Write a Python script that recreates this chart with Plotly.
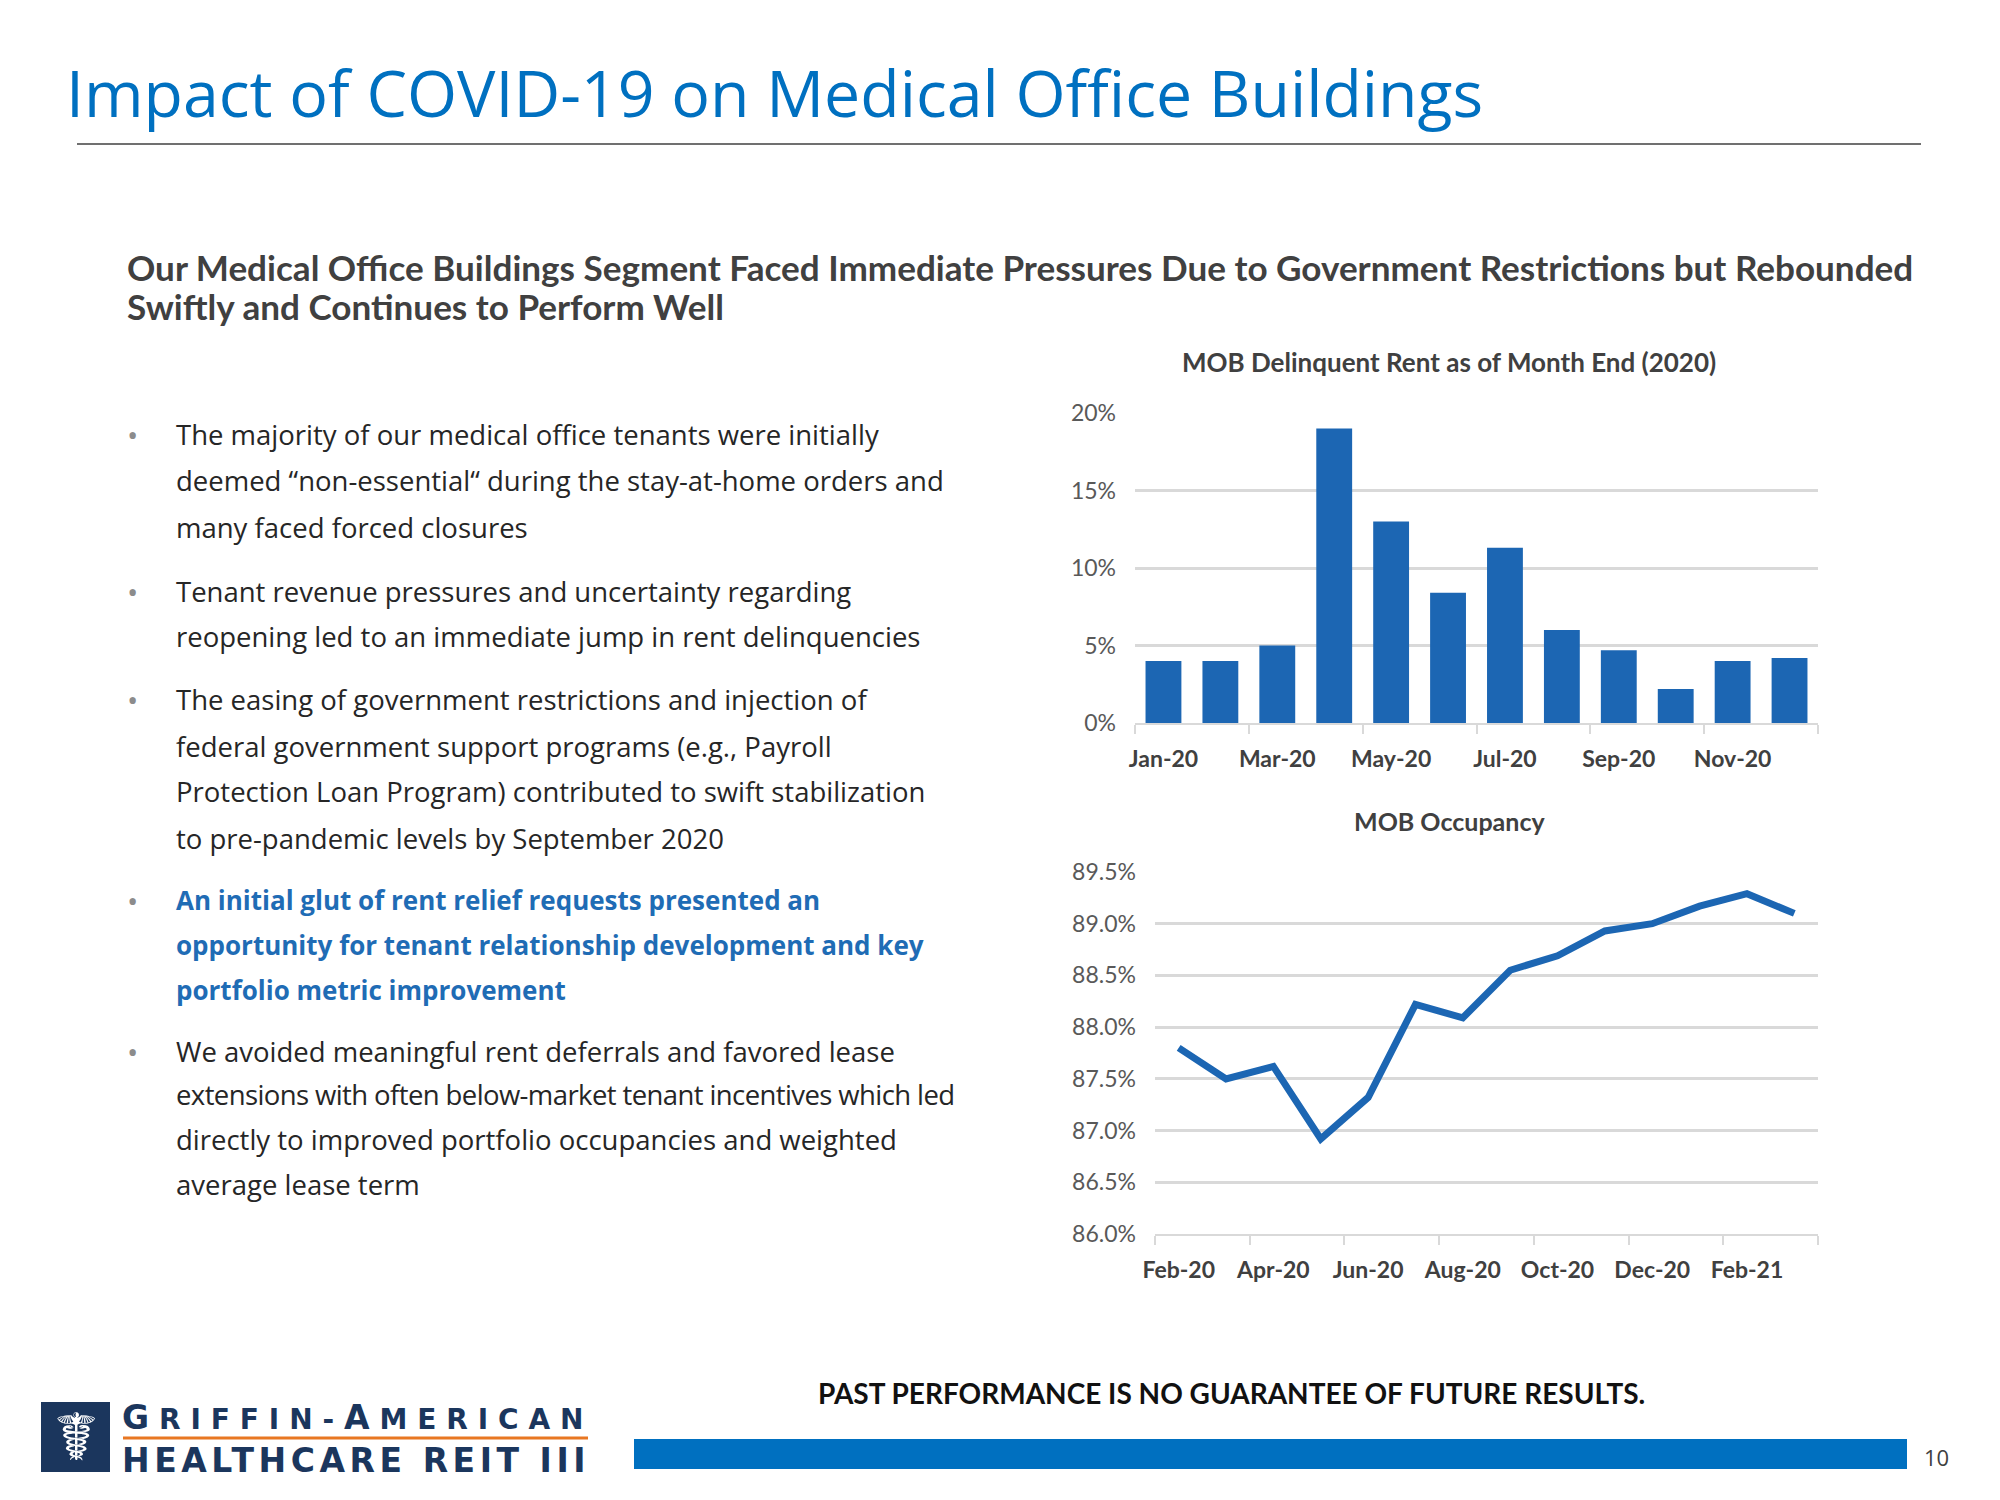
import plotly.graph_objects as go

# ---------------- data ----------------
rent_months = ["Jan-20", "Feb-20", "Mar-20", "Apr-20", "May-20", "Jun-20",
               "Jul-20", "Aug-20", "Sep-20", "Oct-20", "Nov-20", "Dec-20"]
rent_delinquent_pct = [4.0, 4.0, 5.0, 19.0, 13.0, 8.4, 11.3, 6.0, 4.7, 2.2, 4.0, 4.2]
rent_ticks = [0, 5, 10, 15, 20]
rent_tick_labels = ["0%", "5%", "10%", "15%", "20%"]

occ_months = ["Feb-20", "Mar-20", "Apr-20", "May-20", "Jun-20", "Jul-20", "Aug-20",
              "Sep-20", "Oct-20", "Nov-20", "Dec-20", "Jan-21", "Feb-21", "Mar-21"]
occ_pct = [87.8, 87.5, 87.62, 86.92, 87.32, 88.22, 88.09, 88.55, 88.69, 88.93,
           89.0, 89.17, 89.29, 89.1]
occ_ticks = [86.0, 86.5, 87.0, 87.5, 88.0, 88.5, 89.0, 89.5]
occ_tick_labels = ["86.0%", "86.5%", "87.0%", "87.5%", "88.0%", "88.5%", "89.0%", "89.5%"]

title_text = "Impact of COVID-19 on Medical Office Buildings"
subtitle_lines = [
    "Our Medical Office Buildings Segment Faced Immediate Pressures Due to Government Restrictions but Rebounded",
    "Swiftly and Continues to Perform Well",
]
bullets = [
    (["The majority of our medical office tenants were initially",
      "deemed \u201cnon-essential\u201c during the stay-at-home orders and",
      "many faced forced closures"], False),
    (["Tenant revenue pressures and uncertainty regarding",
      "reopening led to an immediate jump in rent delinquencies"], False),
    (["The easing of government restrictions and injection of",
      "federal government support programs (e.g., Payroll",
      "Protection Loan Program) contributed to swift stabilization",
      "to pre-pandemic levels by September 2020"], False),
    (["An initial glut of rent relief requests presented an",
      "opportunity for tenant relationship development and key",
      "portfolio metric improvement"], True),
    (["We avoided meaningful rent deferrals and favored lease",
      "extensions with often below-market tenant incentives which led",
      "directly to improved portfolio occupancies and weighted",
      "average lease term"], False),
]
bullet_line_y = [[434, 480, 527], [591, 636], [699, 746, 792, 838],
                 [900, 945, 990], [1051, 1094, 1139, 1184]]

W, H = 2000, 1500
OFF = 8  # page body margin compensation
def px(x): return (x - OFF) / W
def py(y): return 1 - (y - OFF) / H

BLUE = "#1c66b3"
TITLE_BLUE = "#0070c0"
GRID = "#d9d9d9"
DARK = "#404040"
NAVY = "#1b365d"

fig = go.Figure()

fig.add_trace(go.Bar(
    x=list(range(len(rent_months))), y=rent_delinquent_pct,
    marker=dict(color=BLUE, line=dict(width=0)), width=0.63,
    xaxis="x", yaxis="y", hoverinfo="skip", showlegend=False))

fig.add_trace(go.Scatter(
    x=list(range(len(occ_months))), y=occ_pct, mode="lines",
    line=dict(color=BLUE, width=7), xaxis="x2", yaxis="y2",
    hoverinfo="skip", showlegend=False))

tick_font = dict(family="Lato", size=23, color="#595959")
xtick_font = dict(family="Lato", size=23, color=DARK, weight="bold")

n1 = len(rent_months)
n2 = len(occ_months)
fig.update_layout(
    width=W, height=H,
    margin=dict(l=0, r=0, t=0, b=0, pad=0, autoexpand=False),
    paper_bgcolor="white", plot_bgcolor="white",
    xaxis=dict(domain=[px(1135), px(1818)], range=[-0.5, n1 - 0.5],
               tickmode="array", tickvals=list(range(0, n1, 2)),
               ticktext=rent_months[::2], ticks="", showgrid=False,
               zeroline=False, showline=True, linecolor=GRID, linewidth=2,
               tickfont=xtick_font, ticklabelstandoff=14,
               minor=dict(tickvals=[i - 0.5 for i in range(0, n1 + 1, 2)],
                          ticks="outside", ticklen=9, tickcolor=GRID,
                          tickwidth=2, showgrid=False),
               anchor="y", automargin=False),
    yaxis=dict(domain=[py(723), py(413)], range=[0, 20],
               tickmode="array", tickvals=rent_ticks, ticktext=rent_tick_labels,
               showgrid=True, gridcolor=GRID, gridwidth=2.5, zeroline=False,
               showline=False, ticks="", tickfont=tick_font,
               ticklabelstandoff=18, anchor="x", automargin=False),
    xaxis2=dict(domain=[px(1155), px(1818)], range=[-0.5, n2 - 0.5],
                tickmode="array", tickvals=list(range(0, n2, 2)),
                ticktext=occ_months[::2], ticks="", showgrid=False,
                zeroline=False, showline=True, linecolor=GRID, linewidth=2,
                tickfont=xtick_font, ticklabelstandoff=14,
                minor=dict(tickvals=[i - 0.5 for i in range(0, n2 + 1, 2)],
                           ticks="outside", ticklen=9, tickcolor=GRID,
                           tickwidth=2, showgrid=False),
                anchor="y2", automargin=False),
    yaxis2=dict(domain=[py(1234), py(872)], range=[86, 89.5],
                tickmode="array", tickvals=occ_ticks, ticktext=occ_tick_labels,
                showgrid=True, gridcolor=GRID, gridwidth=2.5,
                zeroline=False, showline=False, ticks="", tickfont=tick_font,
                ticklabelstandoff=18, anchor="x2", automargin=False),
)

ann = []
def text(x, y, s, size, color, family="Open Sans", bold=False, xanchor="left"):
    ann.append(dict(x=px(x), y=py(y), xref="paper", yref="paper", text=s,
                    showarrow=False, xanchor=xanchor, yanchor="middle",
                    borderpad=0, borderwidth=0,
                    font=dict(family=family, size=size, color=color,
                              weight="bold" if bold else "normal")))

# title
text(66, 92, title_text, 64.4, TITLE_BLUE)
# subtitle
text(127, 267, subtitle_lines[0], 35.1, DARK, family="Lato", bold=True)
text(127, 306, subtitle_lines[1], 35.1, DARK, family="Lato", bold=True)

# bullets
for (lines, is_bold), ys in zip(bullets, bullet_line_y):
    text(127, ys[0], "\u2022", 30, "#8c8c8c")
    for ln, yy in zip(lines, ys):
        if is_bold:
            text(176, yy, ln, 26, "#1f6cb5", bold=True)
        elif ln.startswith("extensions"):
            text(176, yy, "<span style='letter-spacing:-0.6px'>" + ln + "</span>",
                 27.5, "#262626")
        else:
            text(176, yy, ln, 27.5, "#262626")

# chart titles
text(1449, 362, "MOB Delinquent Rent as of Month End (2020)", 26, DARK,
     family="Lato", bold=True, xanchor="center")
text(1449, 821, "MOB Occupancy", 25, DARK, family="Lato", bold=True,
     xanchor="center")

# footer
text(1231, 1393, "PAST PERFORMANCE IS NO GUARANTEE OF FUTURE RESULTS.", 28,
     "#111111", family="Lato", bold=True, xanchor="center")
text(1936, 1457, "10", 22, DARK, xanchor="center")

# logo text
big = "font-size:33px"
text(122, 1417,
     f"<span style='letter-spacing:9.9px'><span style='{big}'>G</span>RIFFIN-<span style='{big}'>A</span>MERICA</span>N",
     28, NAVY, family="DejaVu Sans", bold=True)
text(122, 1460, "<span style='letter-spacing:4.55px'>HEALTHCARE REIT II</span>I",
     33, NAVY, family="DejaVu Sans", bold=True)
ann.append(dict(x=px(76), y=py(1437), xref="paper", yref="paper", text="\u2624",
                showarrow=False, xanchor="center", yanchor="middle",
                font=dict(family="DejaVu Sans", size=66, color="white")))

fig.update_layout(annotations=ann)

shapes = [
    dict(type="line", xref="paper", yref="paper", x0=px(77), x1=px(1921),
         y0=py(144), y1=py(144), line=dict(color="#404040", width=1.5)),
    dict(type="rect", xref="paper", yref="paper", x0=px(634), x1=px(1907),
         y0=py(1469), y1=py(1439), fillcolor=TITLE_BLUE, line=dict(width=0)),
    dict(type="rect", xref="paper", yref="paper", x0=px(41), x1=px(110),
         y0=py(1472), y1=py(1402), fillcolor=NAVY, line=dict(width=0)),
    dict(type="line", xref="paper", yref="paper", x0=px(123), x1=px(588),
         y0=py(1438), y1=py(1438), line=dict(color="#e87722", width=3)),
]
fig.update_layout(shapes=shapes)

fig.write_html("out.html")
